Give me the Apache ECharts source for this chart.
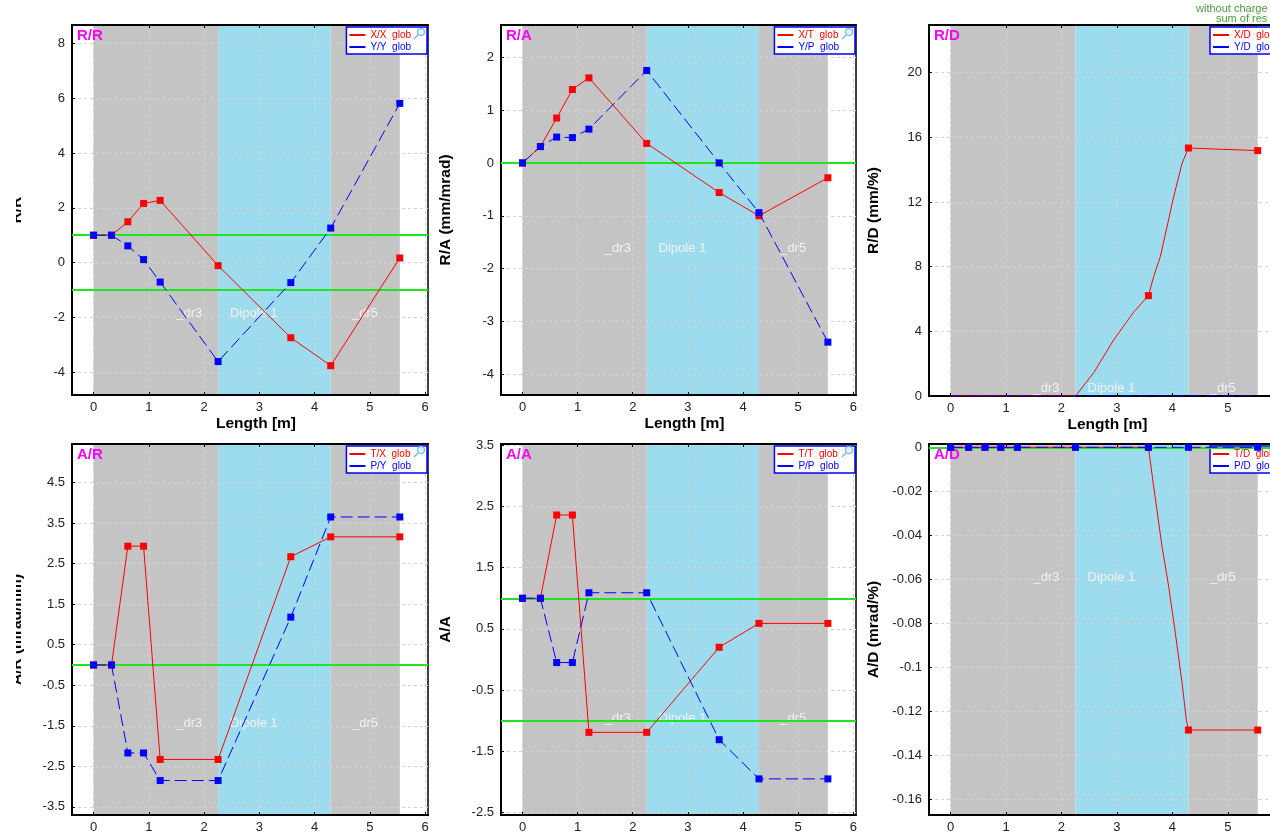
<!DOCTYPE html>
<html>
<head>
<meta charset="utf-8">
<script src="https://cdn.jsdelivr.net/npm/echarts@6/dist/echarts.min.js"></script>
<style>
  html, body { margin: 0; padding: 0; background: #fff; overflow: hidden; }
  #chart { width: 1270px; height: 833px; }
</style>
</head>
<body>
<div id="chart"></div>
<script>
// Element boundaries along the line [m]
const sPos = [0, 0.325, 0.62, 0.905, 1.205, 2.253, 3.568, 4.29, 5.54];
const xTicks = [0, 1, 2, 3, 4, 5, 6];

// Beam-line elements shown as background bands: [from, to, kind]
const bandFrom = [0, 2.253, 4.29];
const bandTo = [2.253, 4.29, 5.54];
const bandKind = [0, 1, 0];            // 0 = drift, 1 = dipole
const bandNames = ['_dr3', 'Dipole 1', '_dr5'];
const bandLabelX = [1.73, 2.9, 4.91];

// R/R
const rrX = [1.0, 1.0, 1.49, 2.16, 2.27, -0.11, -2.74, -3.76, 0.17];
const rrY = [1.0, 1.0, 0.61, 0.11, -0.71, -3.61, -0.73, 1.26, 5.81];
// R/A
const raXT = [0, 0.31, 0.85, 1.39, 1.61, 0.37, -0.56, -1.0, -0.28];
const raYP = [0, 0.31, 0.49, 0.48, 0.64, 1.75, 0.0, -0.94, -3.39];
// R/D
const rdXD = [0, 0, 0, 0, 0, 0, 6.21, 15.34, 15.18];
const rdXDInside = [[2.58, 1.44], [2.94, 3.46], [3.30, 5.18], [3.663, 7.39], [3.783, 8.62], [3.904, 10.47], [4.024, 12.33], [4.175, 14.39]];
const rdYD = [0, 0, 0, 0, 0, 0, 0, 0, 0];
// A/R
const arTX = [0, 0, 2.93, 2.93, -2.33, -2.33, 2.67, 3.16, 3.16];
const arPY = [0, 0, -2.17, -2.17, -2.85, -2.85, 1.18, 3.65, 3.65];
// A/A
const aaTT = [1, 1, 2.36, 2.36, -1.19, -1.19, 0.2, 0.59, 0.59];
const aaPP = [1, 1, -0.05, -0.05, 1.09, 1.09, -1.31, -1.95, -1.95];
// A/D
const adTD = [0, 0, 0, 0, 0, 0, 0, -0.1285, -0.1285];
const adTDInside = [[3.663, -0.0179], [3.813, -0.045], [3.934, -0.0633], [4.054, -0.0845], [4.175, -0.107], [4.253, -0.124]];
const adPD = [0, 0, 0, 0, 0, 0, 0, 0, 0];

// Axis ticks
const rrTicks = [-4, -2, 0, 2, 4, 6, 8];
const raTicks = [-4, -3, -2, -1, 0, 1, 2];
const rdTicks = [0, 4, 8, 12, 16, 20];
const arTicks = [-3.5, -2.5, -1.5, -0.5, 0.5, 1.5, 2.5, 3.5, 4.5];
const aaTicks = [-2.5, -1.5, -0.5, 0.5, 1.5, 2.5, 3.5];
const adTicks = [-0.16, -0.14, -0.12, -0.1, -0.08, -0.06, -0.04, -0.02, 0];

// Reference (tolerance) levels
const rrLevels = [1, -1];
const raLevels = [0];
const rdLevels = [];
const arLevels = [0];
const aaLevels = [1, -1];
const adLevels = [0];

const panels = [
  { title: 'R/R', yName: 'R/R', yMin: -4.83, yMax: 8.67, ticks: rrTicks,
    names: ['X/X  glob', 'Y/Y  glob'], red: rrX, blue: rrY, redIn: [], levels: rrLevels, labelY: -1.87 },
  { title: 'R/A', yName: 'R/A (mm/mrad)', yMin: -4.39, yMax: 2.61, ticks: raTicks,
    names: ['X/T  glob', 'Y/P  glob'], red: raXT, blue: raYP, redIn: [], levels: raLevels, labelY: -1.61 },
  { title: 'R/D', yName: 'R/D (mm/%)', yMin: 0, yMax: 22.95, ticks: rdTicks,
    names: ['X/D  glob', 'Y/D  glob'], red: rdXD, blue: rdYD, redIn: rdXDInside, levels: rdLevels, labelY: 0.45, hideAtMin: true },
  { title: 'A/R', yName: 'A/R (mrad/mm)', yMin: -3.7, yMax: 5.45, ticks: arTicks,
    names: ['T/X  glob', 'P/Y  glob'], red: arTX, blue: arPY, redIn: [], levels: arLevels, labelY: -1.43 },
  { title: 'A/A', yName: 'A/A', yMin: -2.54, yMax: 3.52, ticks: aaTicks,
    names: ['T/T  glob', 'P/P  glob'], red: aaTT, blue: aaPP, redIn: [], levels: aaLevels, labelY: -0.97 },
  { title: 'A/D', yName: 'A/D (mrad/%)', yMin: -0.1671, yMax: 0.0015, ticks: adTicks,
    names: ['T/D  glob', 'P/D  glob'], red: adTD, blue: adPD, redIn: adTDInside, levels: adLevels, labelY: -0.0593 }
];

// Plot-area layout in pixels
const layout = [
  { left: 72,  top: 25,  width: 356, height: 370, legendRight: 843, nameShift: 12 },
  { left: 501, top: 25,  width: 355, height: 370, legendRight: 415, nameShift: 12 },
  { left: 929, top: 25,  width: 357, height: 371, legendLeft: 1210, nameShift: 0 },
  { left: 72,  top: 444, width: 356, height: 371, legendRight: 843, nameShift: 12 },
  { left: 501, top: 444, width: 355, height: 371, legendRight: 415, nameShift: 12 },
  { left: 929, top: 444, width: 357, height: 371, legendLeft: 1210, nameShift: 0 }
];

const FONT = '"Liberation Sans", Arial, sans-serif';
const X_MIN = -0.39, X_MAX = 6.05;
const RED = '#ff0000', BLUE = '#0000ff';
const BAND_COLORS = ['#c4c4c4', '#9cdcee'];

function seriesPoints(vals, inside, hideBelow) {
  const list = sPos.map((x, i) => {
    const item = { value: [x, vals[i]] };
    if (hideBelow !== undefined && vals[i] <= hideBelow) item.symbol = 'none';
    return item;
  });
  inside.forEach(p => list.push({ value: p, symbol: 'none' }));
  list.sort((a, b) => a.value[0] - b.value[0]);
  return list;
}

const grid = [], xAxis = [], yAxis = [], series = [], legend = [], title = [];

panels.forEach((p, i) => {
  const L = layout[i];
  grid.push({ left: L.left, top: L.top, width: L.width, height: L.height,
    outerBoundsMode: 'none', containLabel: false,
    show: true, backgroundColor: '#fff', borderColor: '#000', borderWidth: 1.5 });

  // bottom axis (index 2i) and top frame axis (index 2i+1)
  xAxis.push({
    type: 'value', gridIndex: i, min: X_MIN, max: X_MAX, z: 2,
    axisLine: { show: true, onZero: false, lineStyle: { color: '#000', width: 2 } },
    axisTick: { show: true, inside: true, length: 3, customValues: xTicks, lineStyle: { color: '#000' } },
    axisLabel: { customValues: xTicks, color: '#222', fontSize: 13, margin: 6, fontFamily: FONT },
    splitLine: { show: true, lineStyle: { color: '#d2d2d2', type: [3, 3], width: 1 } },
    name: 'Length [m]', nameLocation: 'middle', nameGap: 21,
    nameTextStyle: { fontWeight: 'bold', fontSize: 15.5, color: '#000', fontFamily: FONT,
      padding: [0, 0, 0, L.nameShift] }
  });
  xAxis.push({
    type: 'value', gridIndex: i, position: 'top', min: X_MIN, max: X_MAX, z: 2,
    axisLine: { show: true, onZero: false, lineStyle: { color: '#000', width: 2 } },
    axisTick: { show: true, inside: true, length: 3, customValues: [1, 2, 3, 4, 5], lineStyle: { color: '#000' } },
    axisLabel: { show: false }, splitLine: { show: false }
  });

  yAxis.push({
    type: 'value', gridIndex: i, min: p.yMin, max: p.yMax, z: 2,
    axisLine: { show: true, onZero: false, lineStyle: { color: '#000', width: 2 } },
    axisTick: { show: true, inside: true, length: 3, customValues: p.ticks, lineStyle: { color: '#000' } },
    axisLabel: { customValues: p.ticks, color: '#222', fontSize: 13, margin: 7, fontFamily: FONT },
    splitLine: { show: true, lineStyle: { color: '#d2d2d2', type: [3, 3], width: 1 } },
    name: p.yName, nameLocation: 'middle', nameGap: 47, nameRotate: 90,
    nameTextStyle: { fontWeight: 'bold', fontSize: 15.5, color: '#000', fontFamily: FONT }
  });

  const xi = 2 * i, yi = i;

  // element bands
  series.push({
    type: 'custom', name: 'bands' + i, xAxisIndex: xi, yAxisIndex: yi, z: 1, silent: true,
    animation: false,
    data: bandFrom.map((f, k) => [f, bandTo[k], bandKind[k]]),
    encode: { x: [0, 1] },
    renderItem: (params, api) => {
      const a = api.coord([api.value(0), p.yMax]);
      const b = api.coord([api.value(1), p.yMin]);
      const cs = params.coordSys;
      return { type: 'rect', shape: { x: a[0], y: cs.y, width: b[0] - a[0], height: cs.height },
        style: { fill: BAND_COLORS[api.value(2)] } };
    }
  });

  // element names
  series.push({
    type: 'custom', name: 'names' + i, xAxisIndex: xi, yAxisIndex: yi, z: 3, silent: true,
    animation: false,
    data: bandLabelX.map((x, k) => [x, p.labelY, k]),
    encode: { x: 0, y: 1 },
    renderItem: (params, api) => {
      const c = api.coord([api.value(0), api.value(1)]);
      return { type: 'text', x: c[0], y: c[1],
        style: { text: bandNames[api.value(2)], fill: '#f2f2f2', fontSize: 13, fontFamily: FONT,
          align: 'center', verticalAlign: 'middle' } };
    }
  });

  // reference levels
  series.push({
    type: 'line', name: 'levels' + i, xAxisIndex: xi, yAxisIndex: yi, z: 4, data: [],
    silent: true, animation: false,
    markLine: {
      silent: true, symbol: 'none', animation: false, label: { show: false },
      lineStyle: { color: '#1ee61e', width: 2, type: 'solid' },
      data: p.levels.map(v => ({ yAxis: v }))
    }
  });

  const hide = p.hideAtMin ? p.yMin : undefined;
  series.push({
    type: 'line', name: p.names[0], xAxisIndex: xi, yAxisIndex: yi, z: 5, animation: false,
    data: seriesPoints(p.red, p.redIn, hide),
    symbol: 'rect', symbolSize: 7, clip: true,
    lineStyle: { color: RED, width: 1 }, itemStyle: { color: RED }
  });
  series.push({
    type: 'line', name: p.names[1], xAxisIndex: xi, yAxisIndex: yi, z: 6, animation: false,
    data: seriesPoints(p.blue, [], hide),
    symbol: 'rect', symbolSize: 7, clip: true,
    lineStyle: { color: BLUE, width: 1, type: [12, 5] }, itemStyle: { color: BLUE }
  });

  const lg = {
    orient: 'vertical', top: L.top + 2, selectedMode: false,
    backgroundColor: '#fff', borderColor: BLUE, borderWidth: 1.5, borderRadius: 0,
    padding: [3, 16, 2, 3], itemGap: 2, itemWidth: 16, itemHeight: 2,
    textStyle: { fontSize: 10, fontFamily: FONT },
    data: [
      { name: p.names[0], icon: 'rect', textStyle: { color: RED } },
      { name: p.names[1], icon: 'rect', textStyle: { color: BLUE } }
    ]
  };
  if (L.legendRight !== undefined) lg.right = L.legendRight; else lg.left = L.legendLeft;
  legend.push(lg);

  title.push({ text: p.title, left: L.left + 5, top: L.top + 3, padding: 0,
    textStyle: { color: '#ff00ff', fontSize: 15, fontWeight: 'bold', fontFamily: FONT } });
});

// magnifier icons in the legend boxes
const lensAt = [[421, 32], [849, 32], [421, 450], [849, 450]];
const graphic = [];
lensAt.forEach(([cx, cy]) => {
  graphic.push({ type: 'circle', shape: { cx: cx, cy: cy, r: 3.5 }, z: 20,
    style: { fill: 'rgba(200,235,255,0.6)', stroke: '#7ab8e0', lineWidth: 1.2 } });
  graphic.push({ type: 'line', shape: { x1: cx - 3, y1: cy + 3, x2: cx - 7, y2: cy + 7 }, z: 20,
    style: { stroke: '#7ab8e0', lineWidth: 1.5 } });
});
// page margin on the left
graphic.push({ type: 'rect', shape: { x: 0, y: 0, width: 16, height: 833 }, z: 50,
  style: { fill: '#fff' } });
// notes above the dispersion panel
graphic.push({ type: 'text', x: 1196, y: 3, z: 20,
  style: { text: 'without charge', fill: '#4c9a3c', fontSize: 11, fontFamily: FONT } });
graphic.push({ type: 'text', x: 1216, y: 13, z: 20,
  style: { text: 'sum of res', fill: '#4c9a3c', fontSize: 11, fontFamily: FONT } });

const chart = echarts.init(document.getElementById('chart'), null, { renderer: 'canvas' });
chart.setOption({
  animation: false,
  backgroundColor: '#fff',
  textStyle: { fontFamily: FONT },
  title, grid, xAxis, yAxis, legend, series, graphic
});
</script>
</body>
</html>
